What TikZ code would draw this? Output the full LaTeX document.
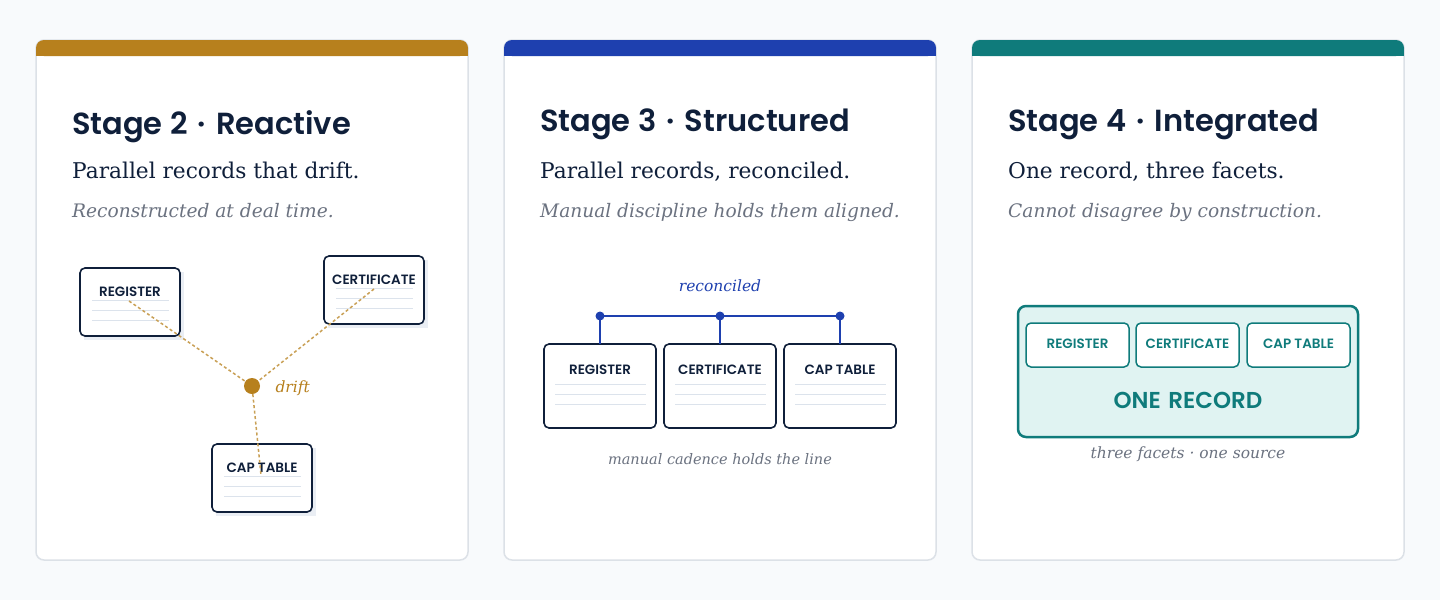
\documentclass[tikz,border=0pt]{standalone}
\usepackage{fontspec}
\setmainfont{DejaVu Serif}
\setsansfont{Fira Sans}
\newfontfamily\ttl{Poppins}[UprightFont=* SemiBold,BoldFont=* SemiBold]
\begin{document}
\definecolor{bg}{HTML}{F8FAFC}
\definecolor{bord}{HTML}{DCE1E7}
\definecolor{gold}{HTML}{B7801D}
\definecolor{blu}{HTML}{1E40AF}
\definecolor{teal}{HTML}{0F7B7B}
\definecolor{navy}{HTML}{0F1F3A}
\definecolor{gry}{HTML}{6B7280}
\definecolor{rule}{HTML}{DCE3EC}
\definecolor{tealbg}{HTML}{E0F3F2}
\begin{tikzpicture}[x=1pt,y=-1pt,
  title/.style={anchor=base west,inner sep=0,font=\ttl\fontsize{30.5}{36}\selectfont,text=navy},
  sub/.style={anchor=base west,inner sep=0,font=\fontsize{21.7}{28}\selectfont,text=navy},
  ital/.style={anchor=base west,inner sep=0,font=\itshape\fontsize{18.6}{24}\selectfont,text=gry},
  doc/.style={draw=navy,line width=1.6pt,rounded corners=5pt,fill=white},
  lab/.style={font=\ttl\fontsize{13.5}{18}\selectfont,text=navy,inner sep=0},
  rl/.style={rule,line width=0.8pt},
  drift/.style={gold!75,dash pattern=on 3pt off 2.5pt,line width=1.5pt}]
\fill[bg] (0,0) rectangle (1440,600);
\useasboundingbox (0,0) rectangle (1440,600);
\foreach \x/\c in {36/gold,504/blu,972/teal}{
  \fill[white,draw=bord,line width=1.5pt,rounded corners=8pt] (\x,40) rectangle ++(432,520);
  \fill[\c,rounded corners=8pt] (\x,40) rectangle ++(432,16);
  \fill[\c] (\x,48) rectangle ++(432,8);
}
% texts
\node[title] (t2) at (72,134) {Stage 2\,\,\textperiodcentered\,\,Reactive};
\node[sub] (s2) at (72,178) {Parallel records that drift.};
\node[ital] (i2) at (72,217) {Reconstructed at deal time.};
\node[title] (t3) at (540,131) {Stage 3\,\,\textperiodcentered\,\,Structured};
\node[sub] (s3) at (540,178) {Parallel records, reconciled.};
\node[ital] (i3) at (540,217) {Manual discipline holds them aligned.};
\node[title] (t4) at (1008,131) {Stage 4\,\,\textperiodcentered\,\,Integrated};
\node[sub] (s4) at (1008,178) {One record, three facets.};
\node[ital] (i4) at (1008,217) {Cannot disagree by construction.};
% stage 2
\foreach \n/\x/\y/\t in {r/80/268/REGISTER,c/324/256/CERTIFICATE,p/212/444/CAP TABLE}{
  \fill[rule!60] (\x+4,\y+4) rectangle ++(100,68);
  \draw[doc] (\x,\y) rectangle ++(100,68);
  \node[lab] (\n2) at (\x+50,\y+24) {\t};
  \foreach \d in {32,42,52} \draw[rl] (\x+12,\y+\d) -- ++(77,0);
}
\node[circle,fill=gold,minimum size=16pt,inner sep=0] (dot) at (252,386) {};
\coordinate (ra) at (129,301); \coordinate (ca) at (374,289); \coordinate (pa) at (261,475);
\draw[drift] (ra) -- (dot); \draw[drift] (ca) -- (dot); \draw[drift] (dot) -- (pa);
\node[anchor=west,font=\itshape\fontsize{15.5}{20}\selectfont,text=gold] (dl) at (272,388) {drift};
% stage 3
\foreach \n/\x/\t in {a/544/REGISTER,b/664/CERTIFICATE,c/784/CAP TABLE}{
  \draw[doc] (\x,344) rectangle ++(112,84) node[pos=0,inner sep=0] (\n3) {};
  \node[lab] (\n3l) at (\x+56,370) {\t};
  \foreach \d in {40,50,60} \draw[rl] (\x+11,344+\d) -- ++(91,0);
  \node[circle,fill=blu,minimum size=9pt,inner sep=0] (\n3d) at (\x+56,316) {};
  \draw[blu,line width=2pt] (\n3d.center) -- (\x+56,344);
}
\draw[blu,line width=2pt] (a3d.center) -- (c3d.center);
\node[font=\itshape\fontsize{15.5}{20}\selectfont,text=blu] (rec) at (720,286) {reconciled};
\node[font=\itshape\fontsize{14.5}{20}\selectfont,text=gry] (man) at (720,459) {manual cadence holds the line};
\draw[teal,fill=tealbg,line width=2.5pt,rounded corners=8pt] (1018,306) rectangle (1358,437);
\foreach \n/\x/\t in {a/1026/REGISTER,b/1136/CERTIFICATE,c/1247/CAP TABLE}{
  \draw[teal,fill=white,line width=1.5pt,rounded corners=5pt] (\x,323) rectangle ++(103,44);
  \node[lab,text=teal] (\n4) at (\x+51.5,344) {\t};
}
\node[font=\ttl\fontsize{23}{30}\selectfont,text=teal] (one) at (1188,400) {ONE\,\,RECORD};
\node[font=\itshape\fontsize{15.5}{20}\selectfont,text=gry] (three) at (1188,454) {three facets \textperiodcentered\ one source};
\end{tikzpicture}
\end{document}
